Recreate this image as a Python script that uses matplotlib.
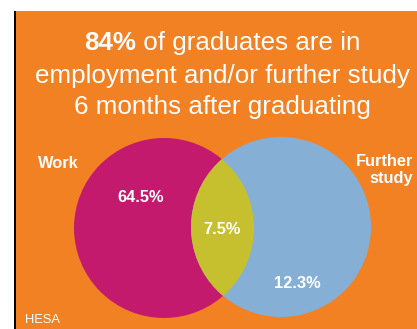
import matplotlib
matplotlib.use("Agg")
import matplotlib.pyplot as plt
from matplotlib.patches import Circle, Rectangle

# Data
set_names = ["Work", "Further\nstudy"]
region_labels = ["64.5%", "7.5%", "12.3%"]   # work only, both, further study only
region_values = [64.5, 7.5, 12.3]
title_bold = "84%"
title_rest = " of graduates are in"
title_lines = ["employment and/or further study", "6 months after graduating"]
source = "HESA"

ORANGE = "#F28123"
MAGENTA = "#C41A6E"
BLUE = "#86AFD6"
LENS = "#C6C02E"

W, H = 417, 329
fig = plt.figure(figsize=(W / 100, H / 100), dpi=100)
ax = fig.add_axes([0, 0, 1, 1])
ax.set_xlim(0, W)
ax.set_ylim(H, 0)
ax.axis("off")

ax.add_patch(Rectangle((16, 11), W - 16, H - 11, facecolor=ORANGE, edgecolor="none"))
ax.add_patch(Rectangle((14, 11), 2, H - 11, facecolor="black", edgecolor="none"))

# Venn geometry (layout)
r = 90
c1 = (164, 228)
c2 = (281, 227)
circ1 = Circle(c1, r, facecolor=MAGENTA, edgecolor="none")
circ2 = Circle(c2, r, facecolor=BLUE, edgecolor="none")
ax.add_patch(circ1)
ax.add_patch(circ2)
lens = Circle(c1, r, facecolor=LENS, edgecolor="none")
ax.add_patch(lens)
clip = Circle(c2, r, transform=ax.transData)
lens.set_clip_path(clip)

font = "Liberation Sans"
# Title
t1y = 43
fs_title = 18.7
tb = ax.text(0, t1y, title_bold, fontsize=fs_title, fontweight="bold", color="white",
             family=font, va="center", ha="left")
tr = ax.text(0, t1y, title_rest, fontsize=fs_title, color="white",
             family=font, va="center", ha="left")
fig.canvas.draw()
rend = fig.canvas.get_renderer()
wb = tb.get_window_extent(rend).width
wr = tr.get_window_extent(rend).width
total = wb + wr
x0 = 222 - total / 2
tb.set_x(x0)
tr.set_x(x0 + wb)
for i, line in enumerate(title_lines):
    ax.text(222, 76 + i * 31, line, fontsize=fs_title, color="white", family=font,
            ha="center", va="center")

# Set labels
fs_lab = 11.8
ax.text(38, 164, set_names[0], fontsize=fs_lab, fontweight="bold", color="white",
        family=font, ha="left", va="center")
ax.text(413, 170, set_names[1], fontsize=fs_lab, fontweight="bold", color="white",
        family=font, ha="right", va="center", linespacing=1.2)

# Region labels
pos = [(141, 198), (222, 229), (297, 283)]
for (x, y), lab in zip(pos, region_labels):
    ax.text(x, y, lab, fontsize=fs_lab, fontweight="bold", color="white", family=font,
            ha="center", va="center")

ax.text(25, 320, source, fontsize=9.3, color="white", family=font, ha="left", va="center")

fig.savefig("out.png", dpi=100, facecolor="white")
